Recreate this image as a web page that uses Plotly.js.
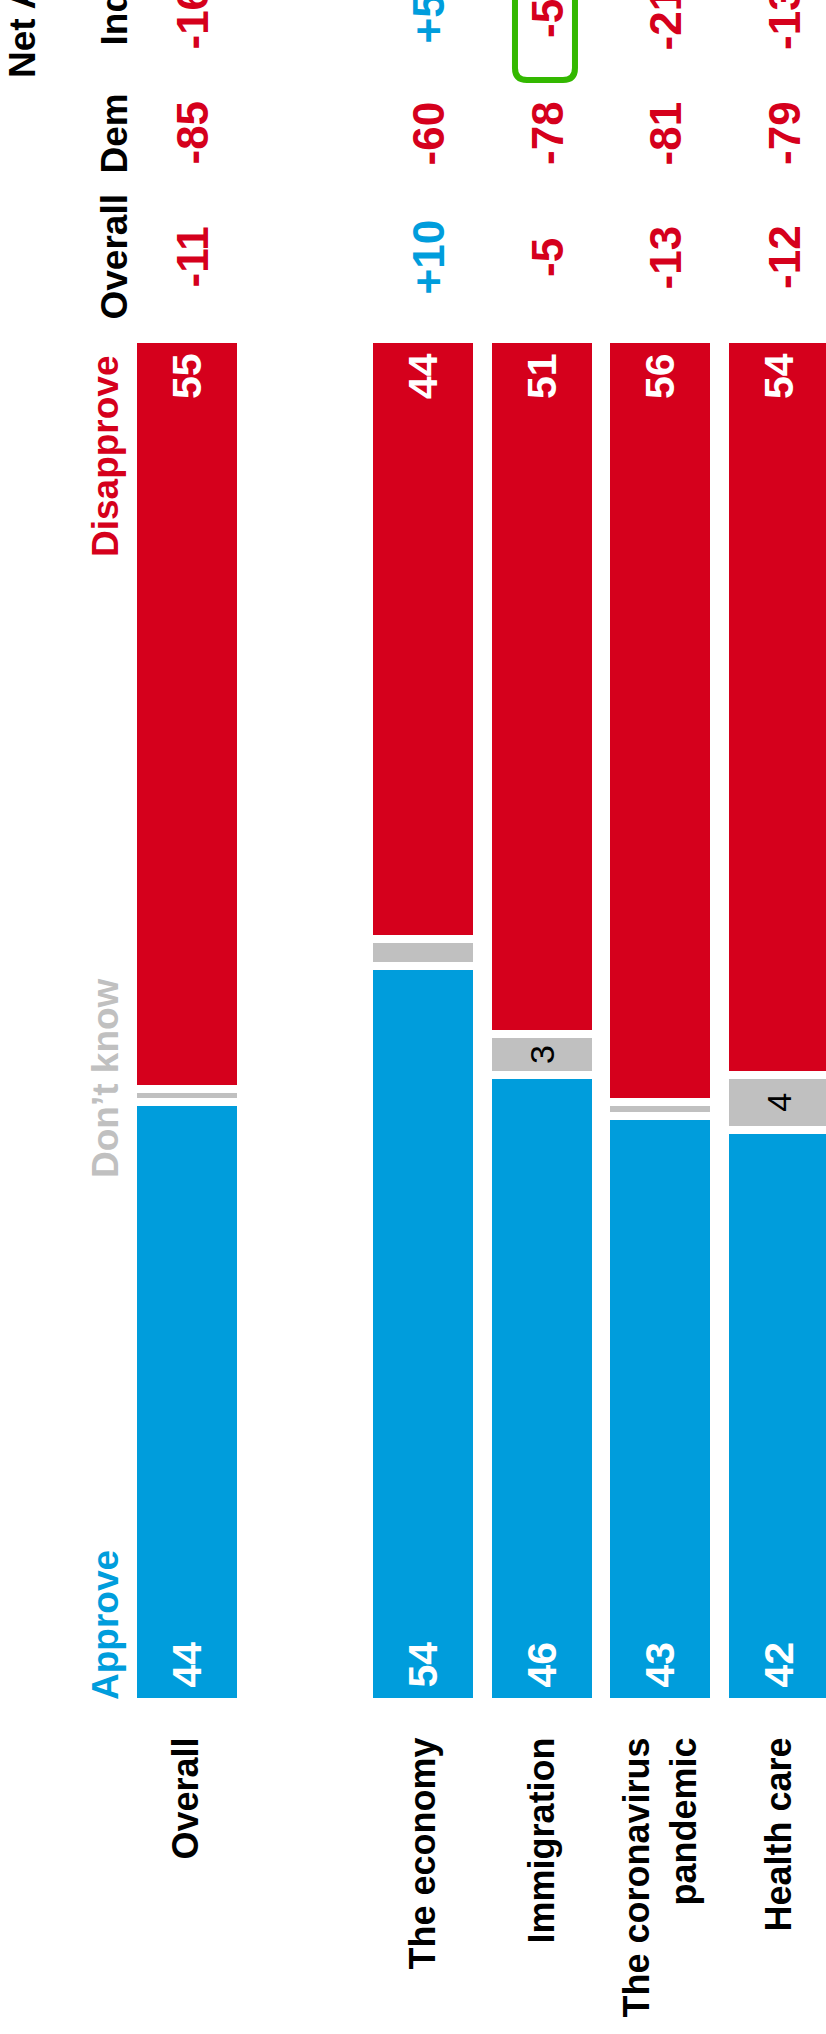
<!DOCTYPE html>
<html>
<head>
<meta charset="utf-8">
<script src="https://cdn.plot.ly/plotly-3.0.1.min.js"></script>
<style>
  html, body { margin: 0; padding: 0; background: #ffffff; }
  #chart { width: 826px; height: 2034px; }
</style>
</head>
<body>
<div id="chart"></div>
<script>
// ---------------- data ----------------
const categories = ['Overall', ' ', 'The economy', 'Immigration', 'The coronavirus<br>pandemic', 'Health care'];
const approve    = [44, null, 54, 46, 43, 42];
const dontKnow   = [1,  null, 2,  3,  1,  4];
const disapprove = [55, null, 44, 51, 56, 54];

const netColumns = ['Overall', 'Dem', 'Ind'];
const netOverall = [-11, null, 10, -5, -13, -12];
const netDem     = [-85, null, -60, -78, -81, -79];
const netInd     = [-16, null, 5, -5, -21, -13];
const netTitle   = 'Net Approval';
const legendLabels = ['Approve', 'Don\u2019t know', 'Disapprove'];
const highlight = { column: 'Ind', category: 'Immigration' };

// ---------------- styling ----------------
const FONT = 'Liberation Sans, Arial, Helvetica, sans-serif';
const BLUE = '#009ddc', RED = '#d5001c', GRAY = '#c0c0c0', GREEN = '#33b800';
const W = 826, H = 2034, MT = 339, MB = 332;
const PH = H - MT - MB;
const XR = [-1.574, 5.397];
const NB = '\u00a0';
const pyToPaper = py => (H - MB - py) / PH;
const pxToPaper = px => px / W;
const catToPx = i => (i - XR[0]) / (XR[1] - XR[0]) * W;

const colCenterPy = { 'Overall': 257, 'Dem': 133, 'Ind': 18 };
const netData = { 'Overall': netOverall, 'Dem': netDem, 'Ind': netInd };

function barTrace(name, vals, color, anchor, tfont, textFn) {
  return {
    type: 'bar', name: name, x: categories, y: vals,
    marker: { color: color, line: { color: '#ffffff', width: 8 } },
    text: vals.map(textFn), textposition: 'inside', insidetextanchor: anchor,
    textangle: -90, constraintext: 'none', insidetextfont: tfont,
    hoverinfo: 'skip'
  };
}
const whiteBold = { family: FONT, size: 41, color: '#ffffff', weight: 700 };
const traces = [
  barTrace('Approve', approve, BLUE, 'start', whiteBold, v => v == null ? '' : NB + v),
  barTrace('Don\u2019t know', dontKnow, GRAY, 'middle', { family: FONT, size: 34, color: '#000000', weight: 400 }, v => (v != null && v >= 3) ? String(v) : ''),
  barTrace('Disapprove', disapprove, RED, 'end', whiteBold, v => v == null ? '' : v + NB)
];

const annotations = [];
// title
annotations.push({ xref: 'paper', yref: 'paper', x: pxToPaper(22.5), y: pyToPaper(80),
  xanchor: 'center', yanchor: 'bottom', textangle: -90, showarrow: false, text: netTitle,
  font: { family: FONT, size: 37, color: '#000000', weight: 700 } });
// column headers + values
netColumns.forEach(col => {
  const yp = pyToPaper(colCenterPy[col]);
  annotations.push({ xref: 'paper', yref: 'paper', x: pxToPaper(113.5), y: yp,
    xanchor: 'center', yanchor: 'middle', textangle: -90, showarrow: false, text: col,
    font: { family: FONT, size: 37, color: '#000000', weight: 700 } });
  netData[col].forEach((v, i) => {
    if (v == null) return;
    annotations.push({ xref: 'x', yref: 'paper', x: categories[i], y: yp, xshift: 5,
      xanchor: 'center', yanchor: 'middle', textangle: -90, showarrow: false,
      text: (v > 0 ? '+' : '') + v,
      font: { family: FONT, size: 44, color: v > 0 ? BLUE : RED, weight: 700 } });
  });
});
// legend labels
const legFont = c => ({ family: FONT, size: 37, color: c, weight: 700 });
annotations.push({ xref: 'paper', yref: 'paper', x: pxToPaper(105), y: 0, xanchor: 'center', yanchor: 'bottom',
  textangle: -90, showarrow: false, text: legendLabels[0], font: legFont(BLUE) });
annotations.push({ xref: 'paper', yref: 'paper', x: pxToPaper(105), y: pyToPaper(1078), xanchor: 'center', yanchor: 'middle',
  textangle: -90, showarrow: false, text: legendLabels[1], font: legFont(GRAY) });
annotations.push({ xref: 'paper', yref: 'paper', x: pxToPaper(105), y: 1, yshift: -14, xanchor: 'center', yanchor: 'top',
  textangle: -90, showarrow: false, text: legendLabels[2], font: legFont(RED) });

// highlight box (rounded rect)
const hi = categories.indexOf(highlight.category);
const cx = catToPx(hi) + 3, hw = 30, r = 12;
const L = cx - hw, R = cx + hw, T = -60, B = 80;
const P = (px, py) => pxToPaper(px) + ',' + pyToPaper(py);
const boxPath = 'M' + P(L, T) + ' L' + P(L, B - r) + ' Q' + P(L, B) + ' ' + P(L + r, B) +
  ' L' + P(R - r, B) + ' Q' + P(R, B) + ' ' + P(R, B - r) + ' L' + P(R, T);

const layout = {
  width: W, height: H,
  margin: { l: 0, r: 0, t: MT, b: MB, pad: 0 },
  paper_bgcolor: '#ffffff', plot_bgcolor: '#ffffff',
  barmode: 'stack', bargap: 0.0886, showlegend: false,
  xaxis: {
    type: 'category', categoryorder: 'array', categoryarray: categories,
    range: XR, tickangle: -90, showgrid: false, zeroline: false, showline: false,
    ticks: 'outside', ticklen: 20, tickcolor: 'rgba(0,0,0,0)',
    tickfont: { family: FONT, size: 36, color: '#000000', weight: 700 }, fixedrange: true
  },
  yaxis: { range: [0, 100], visible: false, fixedrange: true },
  annotations: annotations,
  shapes: [{ type: 'path', xref: 'paper', yref: 'paper', path: boxPath,
    line: { color: GREEN, width: 6 }, fillcolor: 'rgba(0,0,0,0)' }]
};

Plotly.newPlot('chart', traces, layout, { displayModeBar: false, staticPlot: true });
</script>
</body>
</html>
